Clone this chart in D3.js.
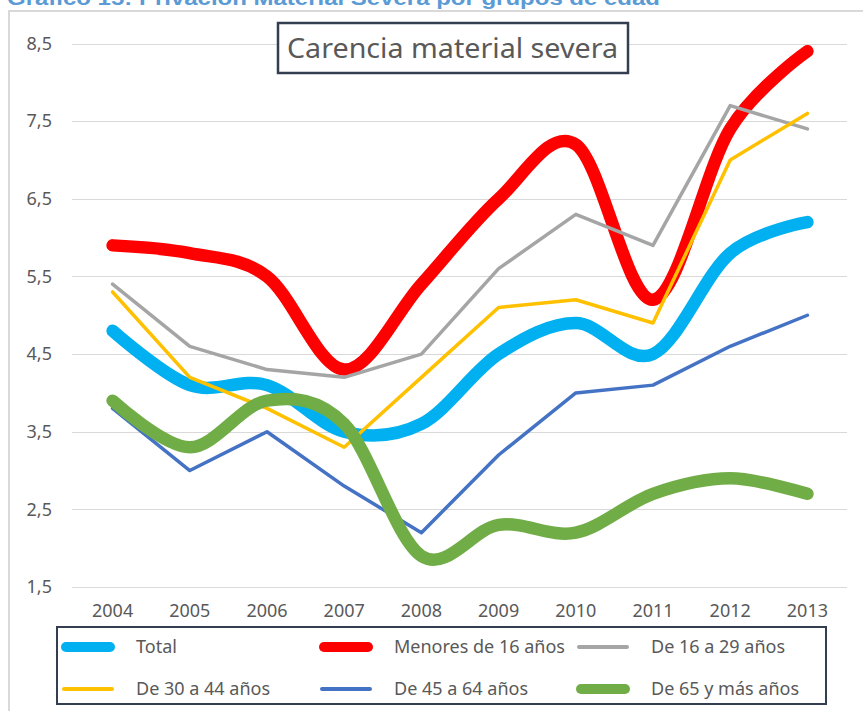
<!DOCTYPE html>
<meta charset="utf-8">
<style>
  body { margin: 0; background: #fff; }
  svg { display: block; font-family: "Noto Sans", "Liberation Sans", Arial, sans-serif; }
  .grid line { stroke: #d9d9d9; stroke-width: 1; }
  .tick-label { fill: #595959; font-size: 18px; }
  .legend-label { fill: #595959; font-size: 18px; }
</style>
<body>
<script src="https://cdn.jsdelivr.net/npm/d3@7/dist/d3.min.js"></script>
<script>
const years = ['2004', '2005', '2006', '2007', '2008', '2009', '2010', '2011', '2012', '2013'];
const yTicks = [1.5, 2.5, 3.5, 4.5, 5.5, 6.5, 7.5, 8.5];

const total      = [4.8, 4.1, 4.1, 3.5, 3.6, 4.5, 4.9, 4.5, 5.8, 6.2];
const menores16  = [5.9, 5.8, 5.5, 4.3, 5.4, 6.5, 7.2, 5.2, 7.4, 8.4];
const de16a29    = [5.4, 4.6, 4.3, 4.2, 4.5, 5.6, 6.3, 5.9, 7.7, 7.4];
const de30a44    = [5.3, 4.2, 3.8, 3.3, 4.2, 5.1, 5.2, 4.9, 7.0, 7.6];
const de45a64    = [3.8, 3.0, 3.5, 2.8, 2.2, 3.2, 4.0, 4.1, 4.6, 5.0];
const de65ymas   = [3.9, 3.3, 3.9, 3.6, 1.9, 2.3, 2.2, 2.7, 2.9, 2.7];

const seriesNames = ['Total', 'Menores de 16 años', 'De 16 a 29 años',
                     'De 30 a 44 años', 'De 45 a 64 años', 'De 65 y más años'];
const seriesValues = [total, menores16, de16a29, de30a44, de45a64, de65ymas];

const colors = ['#00b0f0', '#ff0000', '#a5a5a5', '#ffc000', '#4472c4', '#70ad47'];
const thick  = [true, true, false, false, false, true];

const width = 863;
const height = 711;

const svg = d3.select('body').append('svg')
  .attr('width', width)
  .attr('height', height);

svg.append('rect')
  .attr('width', width).attr('height', height)
  .attr('fill', '#fff');

// heading, cut at the top of the picture
svg.append('text')
  .attr('x', 7)
  .attr('y', 5)
  .attr('textLength', 653)
  .attr('lengthAdjust', 'spacingAndGlyphs')
  .style('font-family', '"Liberation Sans", Arial, sans-serif')
  .style('font-weight', 'bold')
  .style('font-size', '20px')
  .style('fill', '#5b9bd5')
  .text('Gráfico 15: Privación Material Severa por grupos de edad');

// chart frame
svg.append('rect')
  .attr('x', 9).attr('y', 11)
  .attr('width', 880).attr('height', 720)
  .attr('fill', 'none')
  .attr('stroke', '#d9d9d9')
  .attr('stroke-width', 2);

const x = d3.scaleBand()
  .domain(years)
  .range([74, 846])
  .padding(0);

const y = d3.scaleLinear()
  .domain([1.5, 8.5])
  .range([587, 43.5]);

const fmt = v => d3.format('.1f')(v).replace('.', ',');

// gridlines
svg.append('g')
  .attr('class', 'grid')
  .selectAll('line')
  .data(yTicks)
  .enter().append('line')
    .attr('x1', 72)
    .attr('x2', 847)
    .attr('y1', d => Math.round(y(d)) + 0.5)
    .attr('y2', d => Math.round(y(d)) + 0.5);

// y axis labels
svg.append('g')
  .selectAll('text')
  .data(yTicks)
  .enter().append('text')
    .attr('class', 'tick-label')
    .attr('x', 52)
    .attr('y', d => y(d))
    .attr('text-anchor', 'end')
    .attr('dy', '0.35em')
    .text(fmt);

// x axis labels
svg.append('g')
  .selectAll('text')
  .data(years)
  .enter().append('text')
    .attr('class', 'tick-label')
    .attr('x', d => x(d) + x.bandwidth() / 2)
    .attr('y', 611)
    .attr('text-anchor', 'middle')
    .attr('dy', '0.35em')
    .text(d => d);

const smoothLine = d3.line()
  .x((d, i) => x(years[i]) + x.bandwidth() / 2)
  .y(d => y(d))
  .curve(d3.curveCatmullRom.alpha(0));

const straightLine = d3.line()
  .x((d, i) => x(years[i]) + x.bandwidth() / 2)
  .y(d => y(d));

svg.append('g')
  .selectAll('path')
  .data(seriesValues)
  .enter().append('path')
    .attr('d', (d, i) => thick[i] ? smoothLine(d) : straightLine(d))
    .attr('fill', 'none')
    .attr('stroke', (d, i) => colors[i])
    .attr('stroke-width', (d, i) => thick[i] ? 12.5 : 3.5)
    .attr('stroke-linecap', 'round')
    .attr('stroke-linejoin', 'round');

// chart title box
const titleBox = svg.append('g');
titleBox.append('rect')
  .attr('x', 278).attr('y', 23)
  .attr('width', 350).attr('height', 50)
  .attr('fill', '#fff')
  .attr('stroke', '#333f50')
  .attr('stroke-width', 2.5);
titleBox.append('text')
  .attr('x', 287)
  .attr('y', 48)
  .attr('dy', '0.35em')
  .attr('textLength', 331)
  .attr('lengthAdjust', 'spacingAndGlyphs')
  .style('font-size', '28px')
  .style('fill', '#595959')
  .text('Carencia material severa');

// legend
const legend = svg.append('g');
legend.append('rect')
  .attr('x', 57).attr('y', 627)
  .attr('width', 769).attr('height', 77)
  .attr('fill', '#fff')
  .attr('stroke', '#333f50')
  .attr('stroke-width', 2);

const colX = [62, 320, 577];
const rowY = [647, 689];

const items = legend.selectAll('g.item')
  .data(seriesNames)
  .enter().append('g')
    .attr('class', 'item')
    .attr('transform', (d, i) => `translate(${colX[i % 3]},${rowY[Math.floor(i / 3)]})`);

items.append('line')
  .attr('x1', (d, i) => thick[i] ? 4 : 2)
  .attr('x2', (d, i) => thick[i] ? 48 : 50)
  .attr('stroke', (d, i) => colors[i])
  .attr('stroke-width', (d, i) => thick[i] ? 10 : 4)
  .attr('stroke-linecap', 'round');

items.append('text')
  .attr('class', 'legend-label')
  .attr('x', 74)
  .attr('dy', '0.35em')
  .text(d => d);
</script>
</body>
</html>
